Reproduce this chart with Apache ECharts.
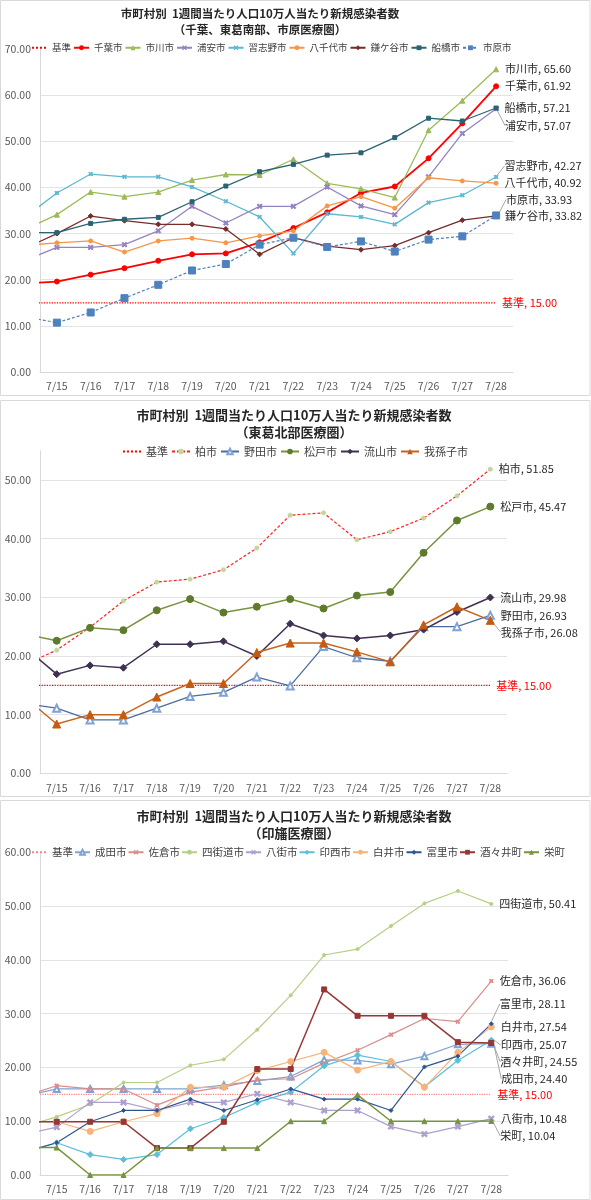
<!DOCTYPE html>
<html><head><meta charset="utf-8">
<script src="https://cdn.jsdelivr.net/npm/echarts@6/dist/echarts.min.js"></script>
<style>html,body{margin:0;padding:0;background:#fff}#c{width:591px;height:1200px}</style>
</head><body><div id="c"></div>
<script>
// categories (first entry 7/14 is only partially visible at the left edge)
const dates = ['7/14','7/15','7/16','7/17','7/18','7/19','7/20','7/21','7/22','7/23','7/24','7/25','7/26','7/27','7/28'];
const yTicks1 = {min:0, max:70, interval:10};
const yTicks2 = {min:0, max:55, interval:10};
const yTicks3 = {min:0, max:60, interval:10};

const title1 = '市町村別  1週間当たり人口10万人当たり新規感染者数\n（千葉、東葛南部、市原医療圏）';
const title2 = '市町村別  1週間当たり人口10万人当たり新規感染者数\n（東葛北部医療圏）';
const title3 = '市町村別  1週間当たり人口10万人当たり新規感染者数\n（印旛医療圏）';

// ---- panel 1 ----
const kijun = [15,15,15,15,15,15,15,15,15,15,15,15,15,15,15];
const chiba     = [19.2,19.6,21.1,22.5,24.1,25.5,25.7,28.1,31.2,34.6,38.8,40.2,46.3,53.9,61.92];
const ichikawa  = [30.7,34.1,39.0,38.0,39.0,41.6,42.8,42.7,46.1,40.9,39.7,37.8,52.4,58.8,65.60];
const urayasu   = [24.0,27.0,27.0,27.6,30.6,35.9,32.3,35.9,35.9,40.1,36.0,34.1,42.3,51.7,57.07];
const narashino = [33.2,38.8,42.9,42.3,42.3,40.1,37.0,33.6,25.7,34.3,33.6,32.0,36.7,38.3,42.27];
const yachiyo   = [27.4,28.0,28.4,26.0,28.4,29.0,28.0,29.5,30.6,36.0,38.0,35.5,42.1,41.4,40.92];
const kamagaya  = [26.6,30.0,33.8,32.8,32.0,32.0,31.0,25.5,29.1,27.3,26.5,27.4,30.2,32.9,33.82];
const funabashi = [30.2,30.2,32.2,33.1,33.5,36.9,40.3,43.4,45.0,47.0,47.5,50.8,55.0,54.4,57.21];
const ichihara  = [12.0,10.7,12.9,16.0,18.9,22.0,23.4,27.6,29.1,27.1,28.3,26.1,28.7,29.4,33.93];

// ---- panel 2 ----
const kashiwa    = [18.4,21.0,24.9,29.4,32.6,33.1,34.7,38.4,44.0,44.4,39.8,41.2,43.5,47.3,51.85];
const noda       = [11.9,11.1,9.1,9.1,11.1,13.1,13.8,16.4,14.9,21.6,19.7,19.1,25.0,25.0,26.93];
const matsudo    = [23.8,22.6,24.8,24.4,27.8,29.7,27.4,28.4,29.7,28.1,30.3,30.9,37.6,43.1,45.47];
const nagareyama = [21.7,16.9,18.4,18.0,22.0,22.0,22.5,20.0,25.5,23.5,23.0,23.5,24.5,27.5,29.98];
const abiko      = [13.2,8.4,10.0,10.0,13.0,15.3,15.3,20.6,22.2,22.2,20.7,19.0,25.3,28.4,26.08];

// ---- panel 3 ----
const narita     = [14.6,16.0,16.0,16.0,16.0,16.0,16.7,17.5,18.3,21.4,21.3,20.6,22.1,24.3,24.40];
const sakura     = [14.6,16.6,16.0,16.0,13.0,15.4,16.4,17.7,17.9,20.8,23.2,26.1,29.1,28.5,36.06];
const yotsukaido = [9.0,10.8,13.1,17.2,17.2,20.4,21.5,27.0,33.4,40.9,42.0,46.3,50.5,52.8,50.41];
const yachimata  = [7.5,8.9,13.5,13.5,12.0,13.5,13.5,15.1,13.5,12.0,12.0,9.0,7.6,9.0,10.48];
const inzai      = [4.2,6.0,3.8,2.9,3.8,8.6,10.7,13.5,15.4,20.3,22.3,21.1,16.4,21.3,25.07];
const shiroi     = [9.9,9.9,8.1,9.9,11.4,16.3,16.3,19.4,21.1,22.8,19.5,21.1,16.3,22.8,27.54];
const tomisato   = [4.2,6.0,9.9,12.0,12.0,14.1,12.0,14.0,16.0,14.1,14.1,12.0,20.1,22.1,28.11];
const shisui     = [9.9,9.9,9.9,9.9,5.0,5.0,9.9,19.7,19.7,34.5,29.6,29.6,29.6,24.7,24.55];
const sakae      = [5.1,5.1,0,0,5.0,5.0,5.0,5.0,10.0,10.0,14.9,10.0,10.0,10.0,10.04];

const XSYM = 'path://M0,2L2,0L5,3L8,0L10,2L7,5L10,8L8,10L5,7L2,10L0,8L3,5Z';
const FONT = '"Noto Sans CJK JP", "Noto Sans", sans-serif';

// [name, data, style]
const panel1 = [
  ['基準', kijun, {c:'#ff0000', t:'dotted', w:1.3, sym:'none', lc:'#ff0000'}],
  ['千葉市', chiba, {c:'#ff0000', w:1.8, sym:'circle', ss:5}],
  ['市川市', ichikawa, {c:'#9bbb59', w:1.3, sym:'triangle', ss:5}],
  ['浦安市', urayasu, {c:'#9583c0', w:1.3, sym:XSYM, ss:5, dy:17, line:true}],
  ['習志野市', narashino, {c:'#5bb8d2', w:1.3, sym:XSYM, ss:4, dy:-11, line:true}],
  ['八千代市', yachiyo, {c:'#f79646', w:1.3, sym:'circle', ss:4}],
  ['鎌ケ谷市', kamagaya, {c:'#772c2a', w:1.3, sym:'diamond', ss:5}],
  ['船橋市', funabashi, {c:'#2a6373', w:1.3, sym:'rect', ss:4}],
  ['市原市', ichihara, {c:'#4f81bd', t:[3,2], w:1.2, sym:'rect', ss:7, dy:-16, line:true}]
];
const panel2 = [
  ['基準\u200b', kijun, {c:'#ff0000', t:'dotted', w:1.3, sym:'none', lc:'#ff0000'}],
  ['柏市', kashiwa, {c:'#ff2020', mc:'#c4d79b', t:[3,2], w:1.2, sym:'circle', ss:4}],
  ['野田市', noda, {c:'#4a6da0', mc:'#7ea3d4', w:1.3, sym:'emptyTriangle', ss:7}],
  ['松戸市', matsudo, {c:'#77933c', mc:'#5e7a2c', w:1.5, sym:'circle', ss:7}],
  ['流山市', nagareyama, {c:'#403152', w:1.5, sym:'diamond', ss:7}],
  ['我孫子市', abiko, {c:'#c8631c', mc:'#c55a11', w:1.5, sym:'triangle', ss:8, dy:12, line:true}]
];
const panel3 = [
  ['基準\u200b\u200b', kijun, {c:'#ff8080', t:'dotted', w:1.2, sym:'none', lc:'#ff0000'}],
  ['成田市', narita, {c:'#7ea3d4', w:1.2, sym:'emptyTriangle', ss:6, dy:35, line:true}],
  ['佐倉市', sakura, {c:'#d98c8a', w:1.2, sym:XSYM, ss:4}],
  ['四街道市', yotsukaido, {c:'#b5cf85', w:1.2, sym:'circle', ss:3}],
  ['八街市', yachimata, {c:'#ad9fcc', w:1.2, sym:XSYM, ss:6}],
  ['印西市', inzai, {c:'#5bbfd9', w:1.2, sym:'diamond', ss:6, dy:5, line:true}],
  ['白井市', shiroi, {c:'#f9b277', w:1.2, sym:'circle', ss:6}],
  ['富里市', tomisato, {c:'#2e5591', w:1.2, sym:'diamond', ss:4, dy:-20, line:true}],
  ['酒々井町', shisui, {c:'#953735', w:1.5, sym:'rect', ss:5, dy:19, line:true}],
  ['栄町', sakae, {c:'#77933c', w:1.5, sym:'triangle', ss:5, dy:15, line:true}]
];

const fmt = p => p.seriesName + ', ' + Number(p.value).toFixed(2);

function mkSeries(spec, gi) {
  const [name, data, s] = spec;
  const last = data.length - 1;
  const isRef = s.sym === 'none';
  const ser = {
    type: 'line', name: name, xAxisIndex: gi, yAxisIndex: gi,
    data: data.map((v, i) => (!isRef && i === last) ? {value: v, label: {show: true}} : v),
    symbol: s.sym, symbolSize: s.ss || 0, showSymbol: !isRef,
    itemStyle: isRef ? {color: 'rgba(0,0,0,0)', borderColor: 'rgba(0,0,0,0)'} : {color: s.mc || s.c, borderColor: s.mc || s.c},
    lineStyle: {color: s.c, width: s.w, type: s.t || 'solid'},
    label: {show: false, position: 'right', distance: 6, fontSize: 11, fontFamily: FONT,
      color: s.lc || '#262626', formatter: fmt},
    labelLayout: {dy: s.dy || 0},
    labelLine: {show: !!s.line, lineStyle: {color: '#a6a6a6', width: 1}},
    emphasis: {disabled: true}, clip: true, animation: false
  };
  if (isRef) {
    ser.endLabel = {show: true, distance: 6, fontSize: 11, fontFamily: FONT, color: s.lc || '#ff0000', formatter: fmt};
  }
  return ser;
}

const grids = [
  {left: 40, top: 49, width: 473, height: 323},
  {left: 40, top: 450.7, width: 467, height: 322.6},
  {left: 40, top: 852.3, width: 468, height: 322.7}
];
const yt = [yTicks1, yTicks2, yTicks3];

const option = {
  backgroundColor: '#fff',
  animation: false,
  textStyle: {fontFamily: FONT},
  graphic: [
    {type:'rect', shape:{x:0.5, y:0.5, width:589.5, height:395}, style:{fill:'none', stroke:'#d9d9d9', lineWidth:1}},
    {type:'rect', shape:{x:0.5, y:400.5, width:589.5, height:396}, style:{fill:'none', stroke:'#d9d9d9', lineWidth:1}},
    {type:'rect', shape:{x:0.5, y:800.5, width:589.5, height:399}, style:{fill:'none', stroke:'#d9d9d9', lineWidth:1}},
    {type:'text', x:260, y:6, style:{text:title1, align:'center', textAlign:'center', verticalAlign:'top', font:'bold 11.5px ' + FONT, lineHeight:16, fill:'#262626'}},
    {type:'text', x:294, y:407, style:{text:title2, align:'center', textAlign:'center', verticalAlign:'top', font:'bold 13px ' + FONT, lineHeight:17, fill:'#262626'}},
    {type:'text', x:294, y:808, style:{text:title3, align:'center', textAlign:'center', verticalAlign:'top', font:'bold 13px ' + FONT, lineHeight:17, fill:'#262626'}}
  ],
  legend: [
    {data: panel1.map(p => p[0]), left: 31, top: 43, itemWidth: 15, itemHeight: 6, itemGap: 2,
     textStyle: {fontSize: 9.5, color: '#404040', fontFamily: FONT}, padding: 0},
    {data: panel2.map(p => p[0]), left: 122, top: 446, itemWidth: 18, itemHeight: 7, itemGap: 3,
     textStyle: {fontSize: 11, color: '#404040', fontFamily: FONT}, padding: 0},
    {data: panel3.map(p => p[0]), left: 31, top: 847, itemWidth: 15, itemHeight: 6, itemGap: 1,
     textStyle: {fontSize: 10.5, color: '#404040', fontFamily: FONT}, padding: 0}
  ],
  grid: grids,
  xAxis: grids.map((g, i) => ({
    type: 'category', gridIndex: i, data: dates, min: 1, boundaryGap: true,
    axisTick: {show: false},
    axisLine: {lineStyle: {color: '#d9d9d9'}},
    axisLabel: {interval: 0, fontSize: 10.5, color: '#595959', margin: 9, fontFamily: FONT},
    splitLine: {show: false}
  })),
  yAxis: grids.map((g, i) => ({
    type: 'value', gridIndex: i, min: yt[i].min, max: yt[i].max, interval: yt[i].interval,
    axisLine: {show: true, lineStyle: {color: '#d9d9d9'}},
    axisTick: {show: false},
    axisLabel: {formatter: v => v.toFixed(2), fontSize: 10.5, color: '#595959', margin: 9, showMaxLabel: i === 1 ? false : true, fontFamily: FONT},
    splitLine: {show: true, showMaxLine: false, lineStyle: {color: '#e3e3e3', width: 1}}
  })),
  series: [].concat(
    panel1.map(p => mkSeries(p, 0)),
    panel2.map(p => mkSeries(p, 1)),
    panel3.map(p => mkSeries(p, 2))
  )
};

const chart = echarts.init(document.getElementById('c'), null, {renderer: 'canvas'});
chart.setOption(option);
</script>
</body></html>
